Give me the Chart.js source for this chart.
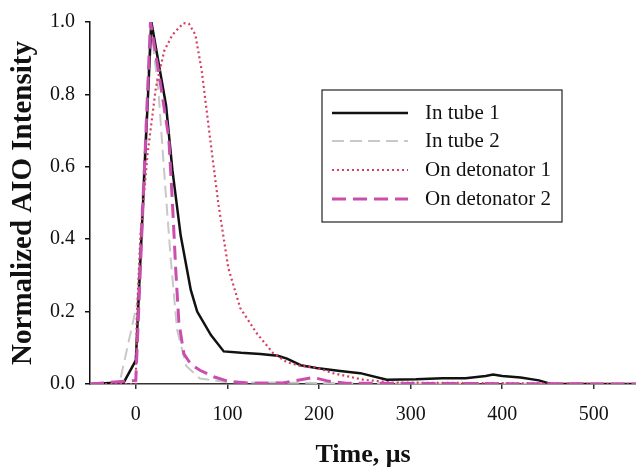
<!DOCTYPE html>
<html>
<head>
<meta charset="utf-8">
<script src="https://cdn.jsdelivr.net/npm/chart.js@4/dist/chart.umd.min.js"></script>
<style>
    html, body { margin: 0; padding: 0; background: #ffffff; }
    #wrap { width: 636px; height: 471px; }
</style>
</head>
<body>
<div id="wrap"><canvas id="aioChart" width="636" height="471"></canvas></div>
<script>
// time (us) and normalized intensity
const tube1Time = [-50, -13, 0, 17, 33, 40, 49, 60, 67, 82, 96, 115, 136, 155, 165, 180, 197, 223, 245, 274, 306, 335, 360, 382, 390, 400, 420, 440, 453, 546];
const tube1Vals = [0, 0.005, 0.065, 1.0, 0.77, 0.59, 0.41, 0.26, 0.20, 0.135, 0.09, 0.086, 0.083, 0.078, 0.07, 0.052, 0.044, 0.036, 0.03, 0.012, 0.013, 0.016, 0.016, 0.022, 0.026, 0.022, 0.018, 0.01, 0.0, 0];

const tube2Time = [-50, -18, -11, 2, 16, 25, 32, 38, 45, 55, 70, 100, 150, 250, 546];
const tube2Vals = [0, 0, 0.08, 0.23, 1.0, 0.8, 0.55, 0.35, 0.15, 0.05, 0.015, 0.005, 0.004, 0.002, 0];

const det1Time = [-50, 0, 1, 5, 13, 22, 31, 40, 52, 58, 65, 72, 81, 90, 101, 114, 132, 150, 165, 180, 197, 215, 248, 280, 546];
const det1Vals = [0, 0, 0.18, 0.41, 0.64, 0.82, 0.92, 0.965, 0.997, 0.995, 0.965, 0.865, 0.68, 0.50, 0.32, 0.21, 0.14, 0.085, 0.06, 0.05, 0.045, 0.03, 0.012, 0.004, 0];

const det2Time = [-50, 0, 16, 25, 36, 40, 43.5, 47, 52.5, 60, 70, 85, 100, 125, 160, 180, 194, 210, 230, 546];
const det2Vals = [0, 0.01, 1.0, 0.86, 0.68, 0.50, 0.32, 0.17, 0.083, 0.055, 0.038, 0.02, 0.008, 0.002, 0.003, 0.012, 0.018, 0.008, 0.002, 0];

const seriesNames = ['In tube 1', 'In tube 2', 'On detonator 1', 'On detonator 2'];
const xTickValues = [0, 100, 200, 300, 400, 500];
const yTickValues = [0, 0.2, 0.4, 0.6, 0.8, 1.0];

const serif = "'Liberation Serif', 'Times New Roman', serif";

function toPoints(times, vals) {
    return times.map((t, i) => ({ x: t, y: vals[i] }));
}

// legend drawn inside the plot, boxed like the original figure
const boxLegend = {
    id: 'boxLegend',
    afterDraw(chart) {
        const ctx = chart.ctx;
        const left = 322, top = 90, right = 562, bottom = 222;
        ctx.save();
        ctx.fillStyle = '#ffffff';
        ctx.fillRect(left, top, right - left, bottom - top);
        ctx.strokeStyle = '#222';
        ctx.lineWidth = 1.2;
        ctx.strokeRect(left, top, right - left, bottom - top);

        const rows = [113, 141, 170, 199];
        chart.data.datasets.forEach((ds, i) => {
            const y = rows[i];
            ctx.beginPath();
            ctx.setLineDash(ds.borderDash || []);
            ctx.strokeStyle = ds.borderColor;
            ctx.lineWidth = ds.borderWidth;
            ctx.moveTo(332, y);
            ctx.lineTo(408, y);
            ctx.stroke();
            ctx.setLineDash([]);
            ctx.fillStyle = '#111';
            ctx.font = '21px ' + serif;
            ctx.textBaseline = 'middle';
            ctx.fillText(ds.label, 425, y);
        });
        ctx.restore();
    }
};

const ctx = document.getElementById('aioChart').getContext('2d');
const aioChart = new Chart(ctx, {
    type: 'line',
    data: {
        datasets: [{
            label: seriesNames[0],
            data: toPoints(tube1Time, tube1Vals),
            borderColor: '#111111',
            borderWidth: 2.5,
            order: 2
        }, {
            label: seriesNames[1],
            data: toPoints(tube2Time, tube2Vals),
            borderColor: '#c8c8c8',
            borderWidth: 2,
            borderDash: [12, 6],
            order: 3
        }, {
            label: seriesNames[2],
            data: toPoints(det1Time, det1Vals),
            borderColor: '#d63f62',
            borderWidth: 2.2,
            borderDash: [2, 3],
            order: 1
        }, {
            label: seriesNames[3],
            data: toPoints(det2Time, det2Vals),
            borderColor: '#c84fae',
            borderWidth: 3,
            borderDash: [14, 7],
            order: 0
        }]
    },
    options: {
        responsive: false,
        animation: false,
        devicePixelRatio: 1,
        layout: { padding: { top: 17, right: 0, left: 0, bottom: 0 } },
        elements: {
            point: { radius: 0 },
            line: { tension: 0, fill: false }
        },
        plugins: {
            legend: { display: false },
            tooltip: { enabled: false }
        },
        scales: {
            x: {
                type: 'linear',
                min: -50,
                max: 546,
                afterBuildTicks: (scale) => {
                    scale.ticks = xTickValues.map(v => ({ value: v }));
                },
                afterFit: (scale) => { scale.height = 87; },
                grid: { drawOnChartArea: false, drawTicks: true, tickLength: 5, color: '#333', lineWidth: 1.5 },
                border: { display: true, color: '#333', width: 1.5 },
                ticks: {
                    color: '#111',
                    padding: 14,
                    maxRotation: 0,
                    font: { family: serif, size: 20 }
                },
                title: {
                    display: true,
                    text: 'Time, μs',
                    color: '#111',
                    padding: { top: 0, bottom: 0 },
                    font: { family: serif, size: 26, weight: 'bold' }
                }
            },
            y: {
                min: 0,
                max: 1,
                afterBuildTicks: (scale) => {
                    scale.ticks = yTickValues.map(v => ({ value: v }));
                },
                afterFit: (scale) => { scale.width = 90; },
                grid: { drawOnChartArea: false, drawTicks: true, tickLength: 5, color: '#111', lineWidth: 1.5 },
                border: { display: true, color: '#111', width: 1.5 },
                ticks: {
                    color: '#111',
                    padding: 10,
                    callback: (v) => v.toFixed(1),
                    font: { family: serif, size: 20 }
                },
                title: {
                    display: true,
                    text: 'Normalized AIO Intensity',
                    color: '#111',
                    padding: { top: 6, bottom: 0 },
                    font: { family: serif, size: 29, weight: 'bold' }
                }
            }
        }
    },
    plugins: [boxLegend]
});
</script>
</body>
</html>
